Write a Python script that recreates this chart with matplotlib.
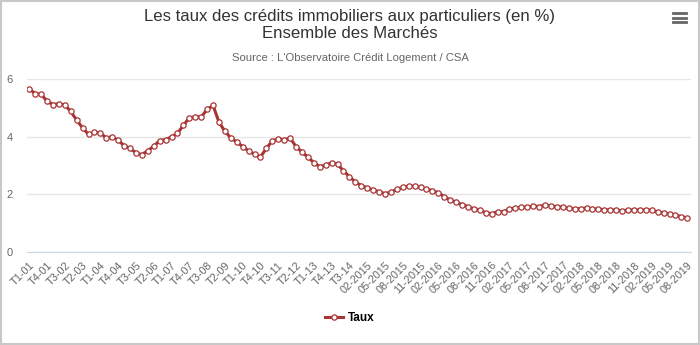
import matplotlib
matplotlib.use("Agg")
import matplotlib.pyplot as plt
from matplotlib.patches import Rectangle
from matplotlib.lines import Line2D

# periodes : trimestres T1-01 .. T4-14 puis mois 01-2015 .. 08-2019
periods = ["T%d-%02d" % (q, y) for y in range(1, 15) for q in range(1, 5)]
periods += ["%02d-%d" % (m, y) for y in range(2015, 2020) for m in range(1, 13)]
periods = periods[:periods.index("08-2019") + 1]

taux = [5.67, 5.50, 5.48, 5.24, 5.12, 5.15, 5.11, 4.88, 4.58, 4.31,
        4.08, 4.16, 4.13, 3.96, 4.00, 3.88, 3.69, 3.60, 3.44, 3.38,
        3.52, 3.67, 3.87, 3.90, 4.00, 4.12, 4.40, 4.66, 4.69, 4.69,
        4.95, 5.09, 4.51, 4.19, 3.96, 3.82, 3.66, 3.51, 3.39, 3.30,
        3.60, 3.86, 3.92, 3.90, 3.95, 3.66, 3.47, 3.29, 3.10, 2.96,
        3.02, 3.10, 3.04, 2.82, 2.61, 2.43, 2.30, 2.23, 2.15, 2.09,
        2.02, 2.07, 2.17, 2.24, 2.28, 2.28, 2.24, 2.18, 2.13, 2.05,
        1.92, 1.80, 1.73, 1.64, 1.57, 1.49, 1.44, 1.36, 1.32, 1.39,
        1.39, 1.49, 1.51, 1.55, 1.55, 1.59, 1.57, 1.63, 1.59, 1.57,
        1.55, 1.51, 1.49, 1.50, 1.52, 1.49, 1.48, 1.46, 1.45, 1.45,
        1.42, 1.45, 1.45, 1.45, 1.45, 1.45, 1.38, 1.35, 1.31, 1.28,
        1.22, 1.18]

yticks = [0, 2, 4, 6]

plt.rcParams["font.family"] = ["Liberation Sans", "DejaVu Sans"]

fig = plt.figure(figsize=(7, 3.45), dpi=100)
ax = fig.add_axes([0.038, 0.2704, 0.949, 0.4997])

x = list(range(len(taux)))
ax.plot(x, taux, color="#a83434", lw=2.2, marker="o", ms=3.8,
        mfc="white", mec="#a83434", mew=0.9, label="Taux")

ax.set_xlim(-0.45, len(taux) - 0.4)
ax.set_ylim(0, 6)
ax.set_yticks(yticks)
ax.grid(axis="y", color="#e6e6e6", lw=1)
ax.set_axisbelow(True)

ticks = list(range(0, len(periods), 3))
ax.set_xticks(ticks)
ax.set_xticklabels([periods[i] for i in ticks], rotation=45, ha="right",
                   rotation_mode="anchor", fontsize=7.8, color="#666666")
ax.tick_params(axis="x", length=0, pad=6)
ax.tick_params(axis="y", length=0, pad=10, labelsize=8, labelcolor="#666666")
for s in ["top", "right", "left"]:
    ax.spines[s].set_visible(False)
ax.spines["bottom"].set_color("#ccd6eb")

fig.text(0.5, 1 - 17 / 345, "Les taux des crédits immobiliers aux particuliers (en %)",
         ha="center", va="center", fontsize=12.1, color="#333333")
fig.text(0.5, 1 - 34 / 345, "Ensemble des Marchés",
         ha="center", va="center", fontsize=12.1, color="#333333")
fig.text(0.5, 1 - 58 / 345, "Source : L'Observatoire Crédit Logement / CSA",
         ha="center", va="center", fontsize=8.1, color="#666666")

fig.legend(loc="center", bbox_to_anchor=(0.5, 1 - 318 / 345), frameon=False,
           handlelength=1.5, handletextpad=0.4,
           prop={"weight": "bold", "size": 8.5})

# menu icon
for yy in [13, 17.5, 22]:
    fig.add_artist(Line2D([673 / 700, 686 / 700], [1 - yy / 345] * 2,
                          color="#666666", lw=2))

fig.add_artist(Rectangle((0.001, 0.002), 0.997, 0.996, transform=fig.transFigure,
                         fill=False, ec="#c8c8c8", lw=1.5))

plt.savefig("out.png", dpi=100)
